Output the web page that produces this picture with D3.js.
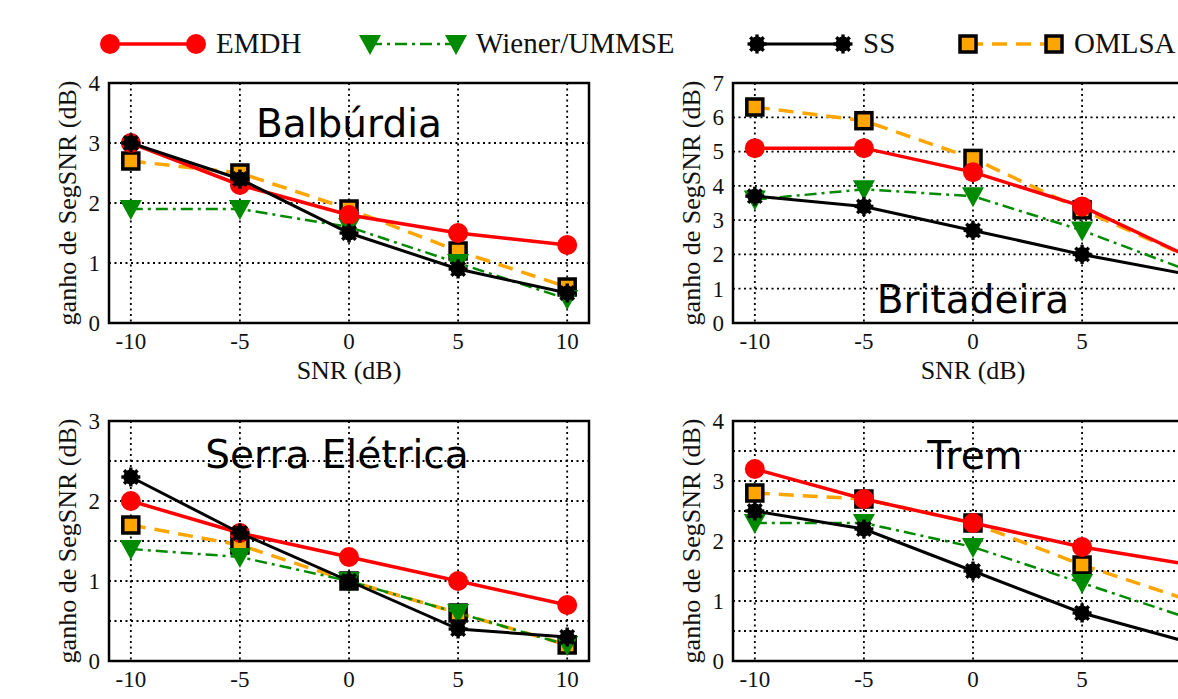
<!DOCTYPE html>
<html lang="en">
<head>
<meta charset="utf-8">
<script src="https://d3js.org/d3.v7.min.js"></script>
<style>
    body { margin: 0; background: #fff; }
    svg { display: block; }
    .tick-lbl { font-family: 'Liberation Serif', 'Times New Roman', serif; font-size: 23px; fill: #111; }
    .axis-lbl { font-family: 'Liberation Serif', 'Times New Roman', serif; font-size: 26px; fill: #111; }
    .legend-lbl { font-family: 'Liberation Serif', 'Times New Roman', serif; font-size: 29px; fill: #111; }
    .title { font-family: 'DejaVu Sans', sans-serif; font-size: 39px; fill: #000; }
</style>
</head>
<body>
<script>
    // x axis values (SNR in dB)
    var snr = [-10, -5, 0, 5, 10];
    var xTicks = [-10, -5, 0, 5, 10];
    var methods = ['EMDH', 'Wiener/UMMSE', 'SS', 'OMLSA'];

    // ganho de SegSNR (dB) per noise type
    var balbEMDH   = [3.0, 2.3, 1.8, 1.5, 1.3];
    var balbWiener = [1.9, 1.9, 1.6, 1.0, 0.4];
    var balbSS     = [3.0, 2.4, 1.5, 0.9, 0.5];
    var balbOMLSA  = [2.7, 2.5, 1.9, 1.2, 0.6];

    var britEMDH   = [5.1, 5.1, 4.4, 3.4, 1.9];
    var britWiener = [3.6, 3.9, 3.7, 2.7, 1.5];
    var britSS     = [3.7, 3.4, 2.7, 2.0, 1.4];
    var britOMLSA  = [6.3, 5.9, 4.8, 3.3, 1.9];

    var serraEMDH   = [2.0, 1.6, 1.3, 1.0, 0.7];
    var serraWiener = [1.4, 1.3, 1.0, 0.6, 0.2];
    var serraSS     = [2.3, 1.6, 1.0, 0.4, 0.3];
    var serraOMLSA  = [1.7, 1.45, 1.0, 0.6, 0.2];

    var tremEMDH   = [3.2, 2.7, 2.3, 1.9, 1.6];
    var tremWiener = [2.3, 2.3, 1.9, 1.3, 0.7];
    var tremSS     = [2.5, 2.2, 1.5, 0.8, 0.3];
    var tremOMLSA  = [2.8, 2.7, 2.3, 1.6, 1.0];

    var width = 1178, height = 699;
    var pw = 480, ph = 240;

    var panels = [
        { title: 'Balbúrdia', left: 109, top: 83, ymax: 4, grid: 1, tx: 349, ty: 137,
          series: { 'EMDH': balbEMDH, 'Wiener/UMMSE': balbWiener, 'SS': balbSS, 'OMLSA': balbOMLSA } },
        { title: 'Britadeira', left: 733, top: 83, ymax: 7, grid: 1, tx: 973, ty: 313,
          series: { 'EMDH': britEMDH, 'Wiener/UMMSE': britWiener, 'SS': britSS, 'OMLSA': britOMLSA } },
        { title: 'Serra Elétrica', left: 109, top: 421, ymax: 3, grid: 0.5, tx: 337, ty: 468,
          series: { 'EMDH': serraEMDH, 'Wiener/UMMSE': serraWiener, 'SS': serraSS, 'OMLSA': serraOMLSA } },
        { title: 'Trem', left: 733, top: 421, ymax: 4, grid: 0.5, tx: 975, ty: 469,
          series: { 'EMDH': tremEMDH, 'Wiener/UMMSE': tremWiener, 'SS': tremSS, 'OMLSA': tremOMLSA } }
    ];

    var style = {
        'EMDH':         { color: '#ff0000', width: 3.5, dash: null, marker: 'circle' },
        'Wiener/UMMSE': { color: '#008a00', width: 2.5, dash: '12,5,3,5', marker: 'triangle' },
        'SS':           { color: '#000000', width: 3, dash: null, marker: 'star' },
        'OMLSA':        { color: '#ffa500', width: 3.5, dash: '15,9', marker: 'square' }
    };
    // drawing order (later on top)
    var drawOrder = ['OMLSA', 'Wiener/UMMSE', 'EMDH', 'SS'];

    var svg = d3.select('body').append('svg').attr('width', width).attr('height', height);

    function drawMarker(g, name, x, y) {
        var s = style[name];
        if (s.marker == 'circle') {
            g.append('circle').attr('cx', x).attr('cy', y).attr('r', 10).attr('fill', s.color);
        } else if (s.marker == 'triangle') {
            g.append('path')
                .attr('d', 'M' + (x - 11) + ',' + (y - 9) + 'L' + (x + 11) + ',' + (y - 9) + 'L' + x + ',' + (y + 11) + 'Z')
                .attr('fill', s.color);
        } else if (s.marker == 'square') {
            g.append('rect').attr('x', x - 8).attr('y', y - 8).attr('width', 16).attr('height', 16)
                .attr('fill', s.color).attr('stroke', '#000').attr('stroke-width', 3.5);
        } else {
            g.append('circle').attr('cx', x).attr('cy', y).attr('r', 7.5).attr('fill', '#000');
            for (var k = 0; k < 8; k++) {
                var a = k * Math.PI / 4;
                g.append('line').attr('x1', x).attr('y1', y)
                    .attr('x2', x + 9.5 * Math.cos(a)).attr('y2', y + 9.5 * Math.sin(a))
                    .attr('stroke', '#000').attr('stroke-width', 3.4);
            }
        }
    }

    panels.forEach(function(p) {
        var g = svg.append('g');
        var x = d3.scaleLinear().domain([-11, 11]).range([p.left, p.left + pw]);
        var y = d3.scaleLinear().domain([0, p.ymax]).range([p.top + ph, p.top]);

        // grid
        var gridVals = d3.range(p.grid, p.ymax, p.grid);
        g.selectAll('.hg').data(gridVals).join('line')
            .attr('x1', p.left).attr('x2', p.left + pw)
            .attr('y1', function(d) { return y(d); }).attr('y2', function(d) { return y(d); })
            .attr('stroke', '#000').attr('stroke-width', 1.8).attr('stroke-dasharray', '2,3.5');
        g.selectAll('.vg').data(xTicks).join('line')
            .attr('x1', function(d) { return x(d); }).attr('x2', function(d) { return x(d); })
            .attr('y1', p.top).attr('y2', p.top + ph)
            .attr('stroke', '#000').attr('stroke-width', 1.8).attr('stroke-dasharray', '2,3.5');

        // tick labels
        g.selectAll('.yl').data(d3.range(0, p.ymax + 1, 1)).join('text')
            .attr('class', 'tick-lbl')
            .attr('x', p.left - 9).attr('y', function(d) { return y(d); })
            .attr('dy', '0.34em').attr('text-anchor', 'end')
            .text(function(d) { return d; });
        g.selectAll('.xl').data(xTicks).join('text')
            .attr('class', 'tick-lbl')
            .attr('x', function(d) { return x(d); }).attr('y', p.top + ph + 26)
            .attr('text-anchor', 'middle')
            .text(function(d) { return d; });

        // axis labels
        g.append('text').attr('class', 'axis-lbl')
            .attr('transform', 'translate(' + (p.left - 33) + ',' + (p.top + ph / 2) + ') rotate(-90)')
            .attr('text-anchor', 'middle')
            .text('ganho de SegSNR (dB)');
        g.append('text').attr('class', 'axis-lbl')
            .attr('x', x(0)).attr('y', p.top + ph + 56)
            .attr('text-anchor', 'middle')
            .text('SNR (dB)');

        // title
        g.append('text').attr('class', 'title')
            .attr('x', p.tx).attr('y', p.ty).attr('text-anchor', 'middle')
            .text(p.title);

        // series
        drawOrder.forEach(function(name) {
            var vals = p.series[name];
            var s = style[name];
            var pts = snr.map(function(v, i) { return [v, vals[i]]; });
            var line = d3.line().x(function(d) { return x(d[0]); }).y(function(d) { return y(d[1]); });
            g.append('path').datum(pts)
                .attr('d', line)
                .attr('fill', 'none')
                .attr('stroke', s.color)
                .attr('stroke-width', s.width)
                .attr('stroke-dasharray', s.dash);
            var mg = g.append('g');
            pts.forEach(function(d) { drawMarker(mg, name, x(d[0]), y(d[1])); });
        });

        // frame
        g.append('rect').attr('x', p.left).attr('y', p.top).attr('width', pw).attr('height', ph)
            .attr('fill', 'none').attr('stroke', '#000').attr('stroke-width', 2.5);
    });

    // legend
    var legendX = [110, 370, 757, 968];
    var leg = svg.append('g');
    methods.forEach(function(name, i) {
        var s = style[name];
        var x0 = legendX[i], x1 = x0 + 86, ly = 44;
        leg.append('line').attr('x1', x0).attr('x2', x1).attr('y1', ly).attr('y2', ly)
            .attr('stroke', s.color).attr('stroke-width', s.width)
            .attr('stroke-dasharray', s.dash);
        drawMarker(leg, name, x0, ly);
        drawMarker(leg, name, x1, ly);
        leg.append('text').attr('class', 'legend-lbl')
            .attr('x', x1 + 20).attr('y', ly + 9)
            .text(name);
    });
</script>
</body>
</html>
